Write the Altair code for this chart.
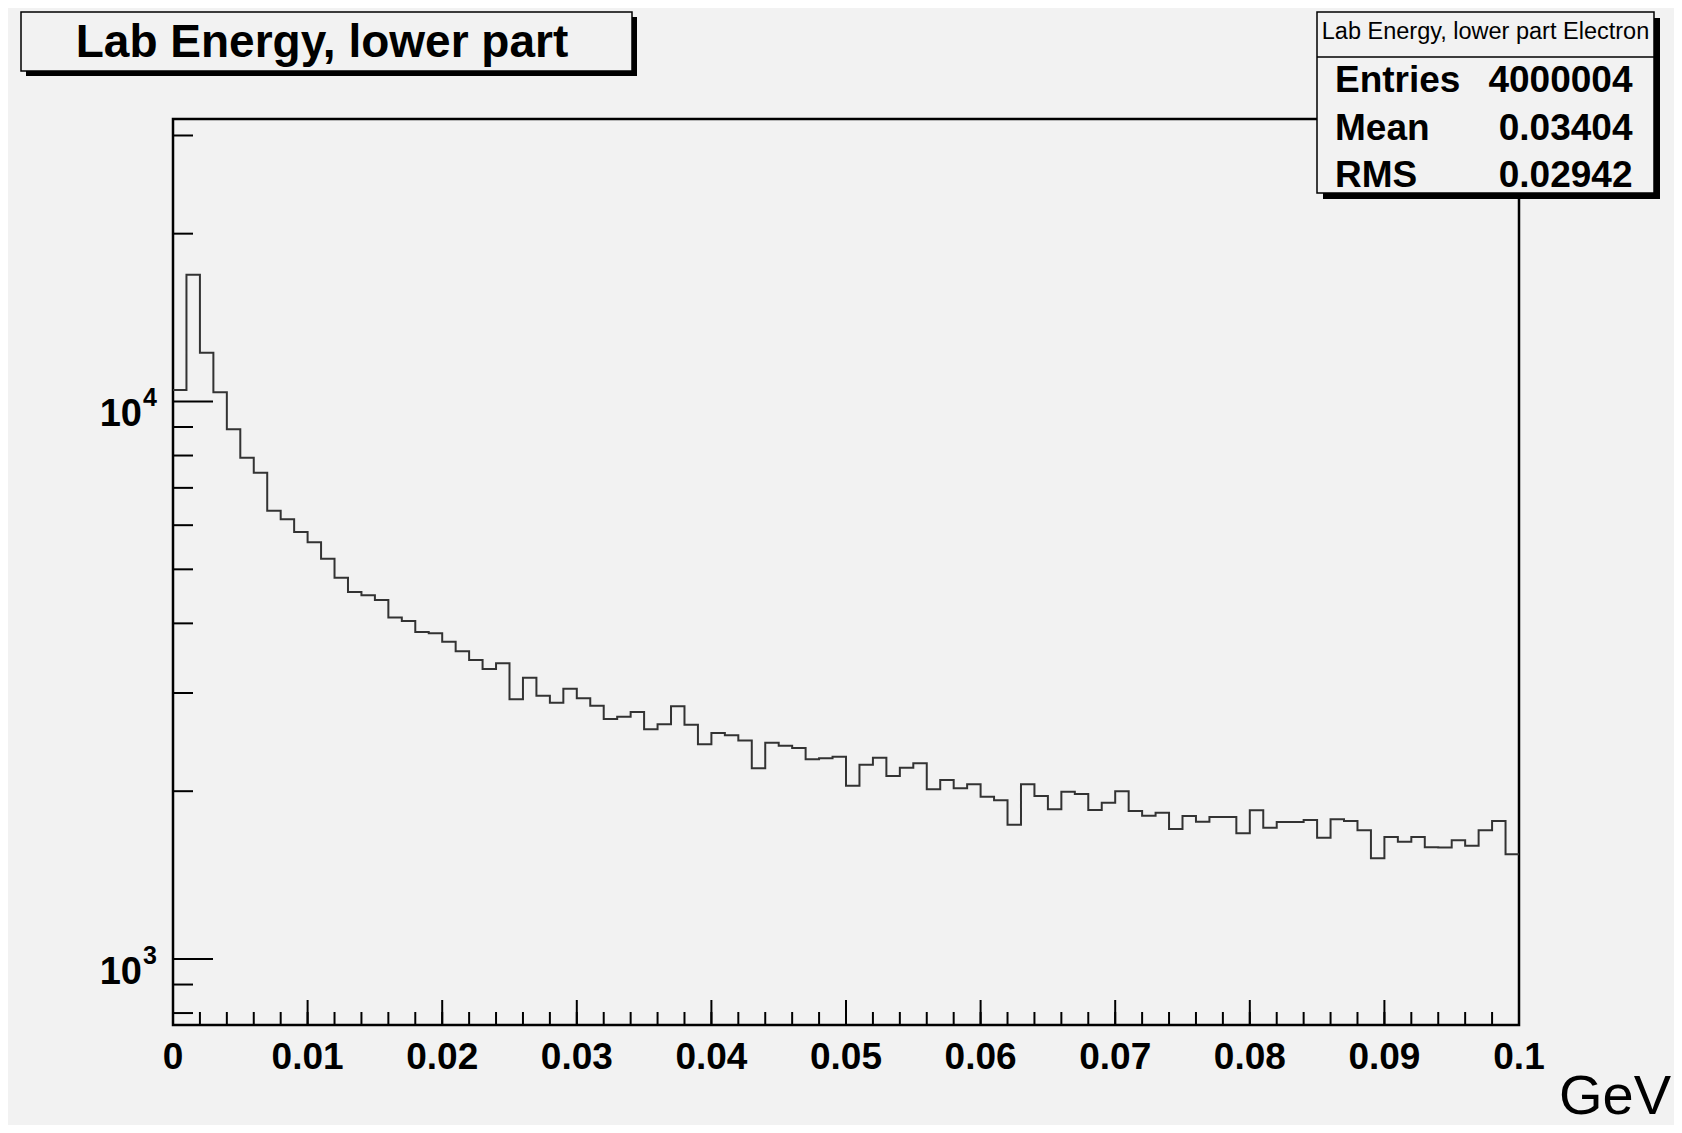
import altair as alt
import pandas as pd

# ---------------- data ----------------
bin_counts = [
    10487, 16870, 12232, 10387, 8914, 7930, 7454, 6367, 6147, 5835,
    5589, 5225, 4831, 4552, 4492, 4404, 4097, 4040, 3860, 3839,
    3706, 3563, 3439, 3312, 3392, 2923, 3196, 2967, 2882, 3053,
    2935, 2847, 2695, 2720, 2773, 2582, 2636, 2840, 2632, 2427,
    2543, 2520, 2465, 2198, 2443, 2413, 2390, 2281, 2291, 2306,
    2046, 2231, 2297, 2130, 2204, 2244, 2016, 2095, 2024, 2058,
    1955, 1927, 1741, 2058, 1961, 1856, 1996, 1977, 1851, 1907,
    1999, 1843, 1807, 1830, 1711, 1805, 1763, 1797, 1797, 1681,
    1848, 1720, 1761, 1761, 1775, 1651, 1781, 1769, 1702, 1516,
    1655, 1623, 1655, 1586, 1585, 1633, 1597, 1702, 1769, 1541,
]
bin_low_edges = [round(i * 0.001, 3) for i in range(101)]

x_major_ticks = [0.0, 0.01, 0.02, 0.03, 0.04, 0.05, 0.06, 0.07, 0.08, 0.09, 0.1]
x_tick_labels = ["0", "0.01", "0.02", "0.03", "0.04", "0.05", "0.06", "0.07", "0.08", "0.09", "0.1"]
x_minor_ticks = [round(i * 0.002, 3) for i in range(51)]

y_major_ticks = [1000, 10000]
y_label_exponents = ["3", "4"]
y_minor_ticks = [800, 900, 2000, 3000, 4000, 5000, 6000, 7000, 8000, 9000, 20000, 30000]

title_text = "Lab Energy, lower part"
stats_header = "Lab Energy, lower part Electron"
stat_names = ["Entries", "Mean", "RMS"]
stat_values = ["4000004", "0.03404", "0.02942"]
x_unit = "GeV"

# ---------------- layout ----------------
W, H = 1346, 906
BG = "#f2f2f2"
FONT = "Liberation Sans"

xs = alt.Scale(domain=[0, 0.1], nice=False, zero=False)
ys = alt.Scale(type="log", domain=[761.5, 32114], nice=False)

hist_df = pd.DataFrame({"x": bin_low_edges, "y": bin_counts + [bin_counts[-1]]})
one = pd.DataFrame({"a": [0]})

hist = alt.Chart(hist_df).mark_line(
    interpolate="step-after", color="#333333", strokeWidth=2
).encode(
    x=alt.X("x:Q", scale=xs, axis=None),
    y=alt.Y("y:Q", scale=ys, axis=None),
)

# x-axis ticks (inside, pointing up)
xmin_t = alt.Chart(pd.DataFrame({"x": x_minor_ticks})).mark_rule(color="black", strokeWidth=2).encode(
    x=alt.X("x:Q", scale=xs, axis=None), y=alt.value(H), y2=alt.value(H - 13)
)
xmaj_t = alt.Chart(pd.DataFrame({"x": x_major_ticks})).mark_rule(color="black", strokeWidth=2).encode(
    x=alt.X("x:Q", scale=xs, axis=None), y=alt.value(H), y2=alt.value(H - 25)
)
xlab = alt.Chart(pd.DataFrame({"x": x_major_ticks, "t": x_tick_labels})).mark_text(
    font=FONT, fontSize=37, fontWeight="bold", align="center", baseline="alphabetic", color="black"
).encode(x=alt.X("x:Q", scale=xs, axis=None), y=alt.value(950), text="t:N")

# y-axis ticks (inside, pointing right)
ymin_t = alt.Chart(pd.DataFrame({"y": y_minor_ticks})).mark_rule(color="black", strokeWidth=2).encode(
    y=alt.Y("y:Q", scale=ys, axis=None), x=alt.value(0), x2=alt.value(20)
)
ymaj_t = alt.Chart(pd.DataFrame({"y": y_major_ticks})).mark_rule(color="black", strokeWidth=2).encode(
    y=alt.Y("y:Q", scale=ys, axis=None), x=alt.value(0), x2=alt.value(40)
)
ylab_df = pd.DataFrame({"y": y_major_ticks, "e": y_label_exponents, "b": ["10", "10"]})
ylab_base = alt.Chart(ylab_df).mark_text(
    font=FONT, fontSize=38, fontWeight="bold", align="right", baseline="alphabetic", dy=25, color="black"
).encode(y=alt.Y("y:Q", scale=ys, axis=None), x=alt.value(-31), text="b:N")
ylab_exp = alt.Chart(ylab_df).mark_text(
    font=FONT, fontSize=25, fontWeight="bold", align="left", baseline="alphabetic", dy=5, color="black"
).encode(y=alt.Y("y:Q", scale=ys, axis=None), x=alt.value(-30), text="e:N")


def box(x1, x2, y1, y2, shadow):
    sh = alt.Chart(one).mark_rect(color="black").encode(
        x=alt.value(x1 + shadow), x2=alt.value(x2 + shadow),
        y=alt.value(y1 + shadow), y2=alt.value(y2 + shadow),
    )
    bx = alt.Chart(one).mark_rect(fill=BG, stroke="black", strokeWidth=1.5).encode(
        x=alt.value(x1), x2=alt.value(x2), y=alt.value(y1), y2=alt.value(y2)
    )
    return [sh, bx]


title_layers = box(-152, 459, -107, -48, 5)
title_lbl = alt.Chart(one).mark_text(
    font=FONT, fontSize=46, fontWeight="bold", align="center", baseline="alphabetic", color="black",
    text=title_text,
).encode(x=alt.value(149), y=alt.value(-62))

stats_layers = box(1144, 1481, -107, 74, 6)
stats_div = alt.Chart(one).mark_rule(color="black", strokeWidth=1.5).encode(
    x=alt.value(1144), x2=alt.value(1481), y=alt.value(-62)
)
stats_head = alt.Chart(one).mark_text(
    font=FONT, fontSize=23.5, align="center", baseline="alphabetic", color="black", text=stats_header
).encode(x=alt.value(1312.5), y=alt.value(-80))

stat_rows = []
for i, (nm, vl) in enumerate(zip(stat_names, stat_values)):
    yb = -27 + i * 47.7
    stat_rows.append(alt.Chart(one).mark_text(
        font=FONT, fontSize=37, fontWeight="bold", align="left", baseline="alphabetic", color="black", text=nm
    ).encode(x=alt.value(1162), y=alt.value(yb)))
    stat_rows.append(alt.Chart(one).mark_text(
        font=FONT, fontSize=37, fontWeight="bold", align="right", baseline="alphabetic", color="black", text=vl
    ).encode(x=alt.value(1459.5), y=alt.value(yb)))

unit_lbl = alt.Chart(one).mark_text(
    font=FONT, fontSize=56, align="right", baseline="alphabetic", color="black", text=x_unit
).encode(x=alt.value(1498), y=alt.value(995))

chart = alt.layer(
    hist, xmin_t, xmaj_t, xlab, ymin_t, ymaj_t, ylab_base, ylab_exp,
    *title_layers, title_lbl,
    *stats_layers, stats_div, stats_head, *stat_rows,
    unit_lbl,
).properties(
    width=W, height=H,
    padding={"left": 165, "top": 111, "right": 155, "bottom": 100},
    autosize=alt.AutoSizeParams(type="none"),
).configure(
    background=BG
).configure_view(
    stroke="black", strokeWidth=2.5
)

chart.save("out.html", embed_options={"renderer": "svg", "actions": False})
